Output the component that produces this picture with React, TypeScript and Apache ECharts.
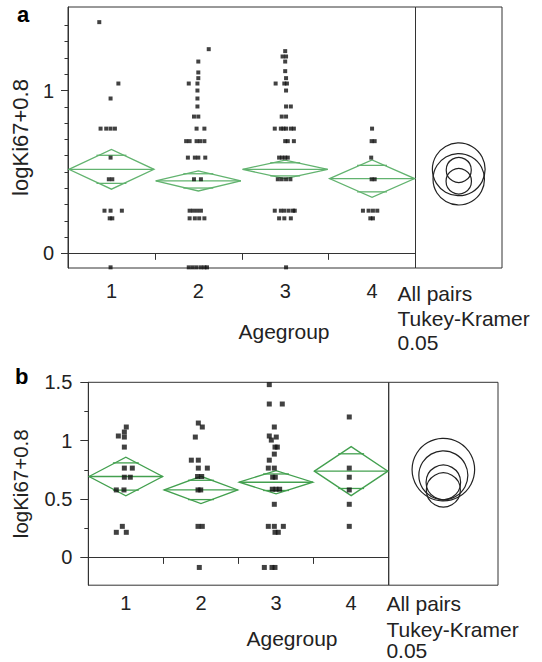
import React, { useEffect, useRef } from 'react';
import * as echarts from 'echarts';

// ---------- shared ----------
const groupLabels = ['1', '2', '3', '4'];
const groupCenters = [0.5, 1.5, 2.5, 3.5];
const groupBoundaries = [1, 2, 3];

// ---------- panel a ----------
const aYMin = -0.09;
const aYMax = 1.513;
const aMajorTicks = [0, 1];
const aMinorTicks = [0.1, 0.2, 0.3, 0.4, 0.5, 0.6, 0.7, 0.8, 0.9, 1.1, 1.2, 1.3, 1.4];

const aPointsG1 = [
  [0.36, 1.42], [0.58, 1.043], [0.49, 0.951], [0.375, 0.766], [0.44, 0.766], [0.49, 0.766], [0.54, 0.766],
  [0.49, 0.588], [0.47, 0.455], [0.51, 0.455], [0.42, 0.262], [0.49, 0.262], [0.62, 0.262],
  [0.48, 0.215], [0.51, 0.215], [0.49, -0.086],
];
const aPointsG2 = [
  [1.62, 1.254], [1.5, 1.178], [1.5, 1.111], [1.5, 1.076], [1.39, 1.043], [1.49, 1.043], [1.49, 1.0],
  [1.49, 0.951], [1.49, 0.902], [1.45, 0.84], [1.5, 0.84], [1.48, 0.766], [1.57, 0.766],
  [1.36, 0.689], [1.4, 0.689], [1.48, 0.689], [1.52, 0.689], [1.57, 0.689],
  [1.38, 0.588], [1.46, 0.588], [1.5, 0.588], [1.58, 0.588], [1.45, 0.455], [1.53, 0.455],
  [1.4, 0.262], [1.44, 0.262], [1.485, 0.262], [1.53, 0.262],
  [1.4, 0.215], [1.46, 0.215], [1.51, 0.215], [1.57, 0.215],
  [1.39, -0.086], [1.435, -0.086], [1.48, -0.086], [1.53, -0.086], [1.57, -0.086], [1.6, -0.086],
];
const aPointsG3 = [
  [2.5, 1.242], [2.47, 1.209], [2.51, 1.209], [2.5, 1.178], [2.5, 1.119], [2.51, 1.076],
  [2.39, 1.043], [2.49, 1.043], [2.52, 1.043], [2.51, 1.0], [2.51, 0.902], [2.565, 0.902],
  [2.46, 0.84], [2.51, 0.84], [2.38, 0.766], [2.45, 0.766], [2.48, 0.766], [2.51, 0.766], [2.565, 0.766], [2.6, 0.766],
  [2.5, 0.689], [2.53, 0.689], [2.6, 0.689], [2.43, 0.588], [2.465, 0.588], [2.5, 0.588], [2.53, 0.588],
  [2.415, 0.455], [2.46, 0.455], [2.51, 0.455], [2.56, 0.455],
  [2.38, 0.262], [2.45, 0.262], [2.49, 0.262], [2.54, 0.262], [2.59, 0.262], [2.61, 0.262],
  [2.43, 0.215], [2.49, 0.215], [2.565, 0.215], [2.51, -0.086],
];
const aPointsG4 = [
  [3.5, 0.766], [3.495, 0.689], [3.53, 0.689], [3.49, 0.588], [3.495, 0.455], [3.53, 0.455],
  [3.395, 0.262], [3.46, 0.262], [3.51, 0.262], [3.56, 0.262], [3.48, 0.215], [3.51, 0.215],
];
const aMeans = [0.516, 0.445, 0.516, 0.459];
const aHalfCI = [0.122, 0.062, 0.057, 0.115];
const aCircleCenters = [0.516, 0.443, 0.512, 0.455];
const aCircleRadii = [0.162, 0.078, 0.077, 0.158];

// ---------- panel b ----------
const bYMin = -0.238;
const bYMax = 1.5;
const bMajorTicks = [0, 0.5, 1, 1.5];
const bMinorTicks = [0.25, 0.75, 1.25];

const bPointsG1 = [
  [0.506, 1.117], [0.48, 1.074], [0.4, 1.04], [0.48, 1.031], [0.48, 0.945], [0.48, 0.765], [0.586, 0.765],
  [0.48, 0.687], [0.559, 0.687], [0.373, 0.578], [0.475, 0.578], [0.453, 0.266], [0.373, 0.215], [0.506, 0.215],
];
const bPointsG2 = [
  [1.465, 1.151], [1.518, 1.117], [1.425, 1.031], [1.372, 0.833], [1.465, 0.833], [1.465, 0.765], [1.585, 0.765],
  [1.455, 0.693], [1.51, 0.693], [1.461, 0.578], [1.497, 0.578], [1.461, 0.266], [1.518, 0.266], [1.478, -0.086],
];
const bPointsG3 = [
  [2.41, 1.48], [2.41, 1.314], [2.583, 1.314], [2.477, 1.117], [2.41, 1.04], [2.503, 1.031], [2.437, 1.005],
  [2.486, 0.945], [2.517, 0.945], [2.477, 0.885], [2.41, 0.833], [2.397, 0.765], [2.477, 0.765],
  [2.455, 0.687], [2.49, 0.687], [2.45, 0.584], [2.499, 0.584], [2.548, 0.584], [2.477, 0.455],
  [2.397, 0.266], [2.477, 0.266], [2.597, 0.266], [2.486, 0.215], [2.53, 0.215],
  [2.344, -0.086], [2.446, -0.086], [2.486, -0.086],
];
const bPointsG4 = [
  [3.475, 1.203], [3.475, 0.765], [3.475, 0.687], [3.475, 0.578], [3.475, 0.455], [3.475, 0.266],
];
const bMeans = [0.693, 0.578, 0.644, 0.739];
const bHalfCI = [0.165, 0.117, 0.1, 0.21];
const bCircleCenters = [0.703, 0.578, 0.643, 0.752];
const bCircleRadii = [0.21, 0.146, 0.148, 0.268];

const FONT = 'Liberation Sans, Arial, Helvetica, sans-serif';
const INK = '#222';
const FRAME = '#333';

function diamondRender(color: string) {
  return (params: any, api: any) => {
    const cx = api.value(0);
    const m = api.value(1);
    const h = api.value(2);
    const w = 0.49;
    const L = api.coord([cx - w, m]);
    const R = api.coord([cx + w, m]);
    const T = api.coord([cx, m + h]);
    const B = api.coord([cx, m - h]);
    const k = 1 / Math.SQRT2;
    const ou = api.coord([cx, m + h * k]);
    const od = api.coord([cx, m - h * k]);
    const hw = (R[0] - L[0]) / 2;
    const ow = hw * (1 - k) * 1.2;
    const style = { stroke: color, lineWidth: 1.3, fill: 'none' };
    return {
      type: 'group',
      children: [
        { type: 'polygon', shape: { points: [L, T, R, B] }, style },
        { type: 'line', shape: { x1: L[0], y1: L[1], x2: R[0], y2: R[1] }, style },
        { type: 'line', shape: { x1: T[0] - ow, y1: ou[1], x2: T[0] + ow, y2: ou[1] }, style },
        { type: 'line', shape: { x1: T[0] - ow, y1: od[1], x2: T[0] + ow, y2: od[1] }, style },
      ],
    };
  };
}

function circleRender(params: any, api: any) {
  const c = api.coord([0, api.value(1)]);
  const r = Math.abs(api.size([0, api.value(2)])[1]);
  return {
    type: 'circle',
    shape: { cx: c[0], cy: c[1], r },
    style: { fill: 'none', stroke: INK, lineWidth: 1.2 },
  };
}

function xAxisData(gridIndex: number, tickLen: number, margin: number) {
  return {
    type: 'value', gridIndex, min: 0, max: 4,
    axisLine: { show: true, lineStyle: { color: FRAME, width: 1 } },
    axisTick: { show: true, customValues: groupBoundaries, length: tickLen, lineStyle: { color: FRAME } },
    axisLabel: {
      show: true, customValues: groupCenters, margin,
      formatter: (v: number) => groupLabels[Math.round(v - 0.5)],
      fontSize: 20, fontFamily: FONT, color: INK,
    },
    splitLine: { show: false },
  };
}

function yMain(gridIndex: number, min: number, max: number, ticks: number[], tickLen: number, margin: number, nameGap: number, nameSize: number) {
  return {
    type: 'value', gridIndex, min, max, position: 'left',
    name: 'logKi67+0.8', nameLocation: 'middle', nameGap, nameRotate: 90,
    nameTextStyle: { fontSize: nameSize, fontFamily: FONT, color: INK },
    axisLine: { show: true, lineStyle: { color: FRAME, width: 1 } },
    axisTick: { show: true, customValues: ticks, length: tickLen, lineStyle: { color: FRAME } },
    axisLabel: {
      show: true, customValues: ticks, margin,
      formatter: (v: number) => String(v),
      fontSize: 20, fontFamily: FONT, color: INK,
    },
    splitLine: { show: false },
  };
}

function yMinor(gridIndex: number, min: number, max: number, ticks: number[], tickLen: number) {
  return {
    type: 'value', gridIndex, min, max, position: 'left',
    axisLine: { show: false },
    axisTick: { show: true, customValues: ticks, length: tickLen, lineStyle: { color: FRAME } },
    axisLabel: { show: false },
    splitLine: { show: false },
  };
}

function hiddenAxis(gridIndex: number, min: number, max: number) {
  return { type: 'value', gridIndex, min, max, show: false, splitLine: { show: false } };
}

export default function App() {
  const ref = useRef<HTMLDivElement>(null);
  useEffect(() => {
    if (!ref.current) return;
    const chart = echarts.init(ref.current, undefined, { renderer: 'svg' });
    const gridBase = { show: true, borderColor: FRAME, borderWidth: 1, backgroundColor: 'transparent', containLabel: false };
    const pointsA = [...aPointsG1, ...aPointsG2, ...aPointsG3, ...aPointsG4];
    const pointsB = [...bPointsG1, ...bPointsG2, ...bPointsG3, ...bPointsG4];
    const txt = (t: string, x: number, y: number, size: number, align: string, vAlign: string, bold?: boolean) => ({
      type: 'text', x, y, silent: true,
      style: {
        text: t, fontSize: size, fontFamily: FONT, fontWeight: bold ? 'bold' : 'normal', fill: bold ? '#000' : INK,
        align, textAlign: align, verticalAlign: vAlign, textVerticalAlign: vAlign, lineHeight: size,
      },
    });
    chart.setOption({
      animation: false,
      backgroundColor: '#fff',
      grid: [
        { ...gridBase, left: 68, top: 7, width: 347.5, height: 261 },
        { ...gridBase, left: 415.5, top: 7, width: 86.5, height: 261 },
        { ...gridBase, left: 88.3, top: 382.3, width: 300.4, height: 202.9 },
        { ...gridBase, left: 388.7, top: 382.3, width: 109.3, height: 202.9 },
      ],
      xAxis: [
        xAxisData(0, 6.5, 13),
        hiddenAxis(1, -1, 1),
        xAxisData(2, 6.5, 7.5),
        hiddenAxis(3, -1, 1),
      ],
      yAxis: [
        yMain(0, aYMin, aYMax, aMajorTicks, 7, 14, 36, 22),
        yMinor(0, aYMin, aYMax, aMinorTicks, 3.5),
        hiddenAxis(1, aYMin, aYMax),
        yMain(2, bYMin, bYMax, bMajorTicks, 8, 16, 57, 20.5),
        yMinor(2, bYMin, bYMax, bMinorTicks, 4),
        hiddenAxis(3, bYMin, bYMax),
      ],
      series: [
        {
          type: 'scatter', xAxisIndex: 0, yAxisIndex: 0, data: pointsA,
          symbol: 'rect', symbolSize: 4, itemStyle: { color: '#111' }, silent: true,
        },
        {
          type: 'custom', xAxisIndex: 0, yAxisIndex: 0, renderItem: diamondRender('#62b36f'),
          data: groupCenters.map((c, i) => [c, aMeans[i], aHalfCI[i]]), silent: true,
        },
        {
          type: 'custom', xAxisIndex: 1, yAxisIndex: 2, renderItem: circleRender,
          data: aCircleCenters.map((c, i) => [0, c, aCircleRadii[i]]), silent: true,
        },
        {
          type: 'scatter', xAxisIndex: 2, yAxisIndex: 3, data: pointsB,
          symbol: 'rect', symbolSize: 5, itemStyle: { color: '#111' }, silent: true,
        },
        {
          type: 'custom', xAxisIndex: 2, yAxisIndex: 3, renderItem: diamondRender('#43a04f'),
          data: groupCenters.map((c, i) => [c, bMeans[i], bHalfCI[i]]), silent: true,
        },
        {
          type: 'custom', xAxisIndex: 3, yAxisIndex: 5, renderItem: circleRender,
          data: bCircleCenters.map((c, i) => [0, c, bCircleRadii[i]]), silent: true,
        },
      ],
      graphic: [
        txt('a', 17, 14, 22, 'left', 'middle', true),
        txt('b', 15, 376, 22, 'left', 'middle', true),
        txt('Agegroup', 284, 331, 21, 'center', 'middle'),
        txt('All pairs', 397.5, 293, 21, 'left', 'middle'),
        txt('Tukey-Kramer', 397.5, 318, 21, 'left', 'middle'),
        txt('0.05', 397.5, 342.5, 21, 'left', 'middle'),
        txt('Agegroup', 292, 638, 21, 'center', 'middle'),
        txt('All pairs', 386.4, 603.5, 21, 'left', 'middle'),
        txt('Tukey-Kramer', 386.4, 629, 21, 'left', 'middle'),
        txt('0.05', 386.4, 650.5, 21, 'left', 'middle'),
      ],
    });
    return () => chart.dispose();
  }, []);
  return (
    <div
      ref={ref}
      style={{ position: 'fixed', left: 0, top: 0, width: 542, height: 662, background: '#fff' }}
    />
  );
}
